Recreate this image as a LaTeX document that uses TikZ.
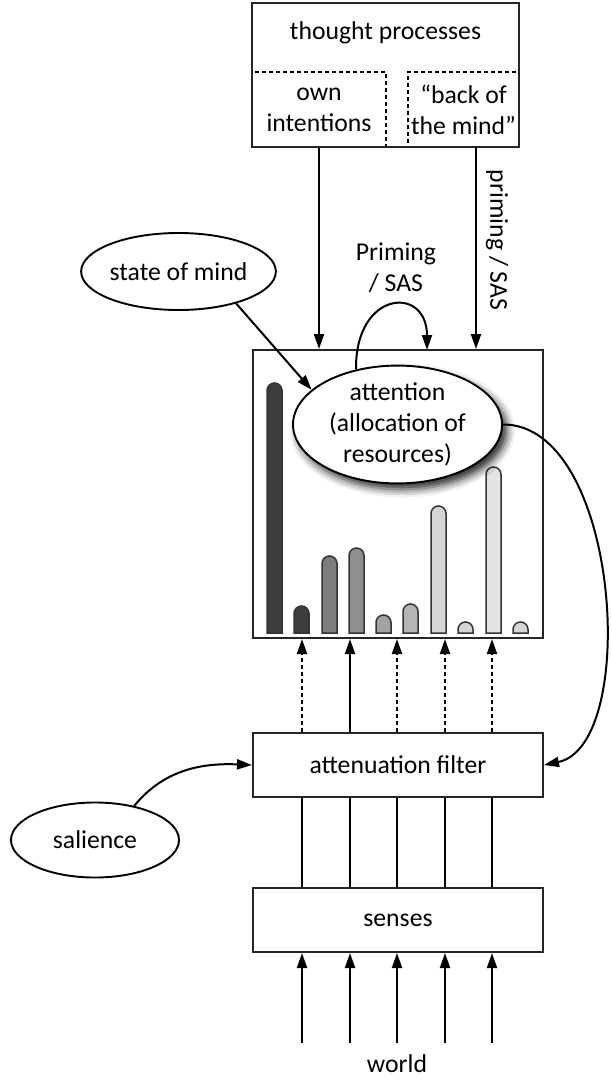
\documentclass[tikz,border=0pt]{standalone}
\usepackage{fontspec}
\setmainfont{Carlito}
\usetikzlibrary{arrows.meta,shapes.geometric,shadows.blur,calc}

\definecolor{barA}{gray}{0.24}
\definecolor{barB}{gray}{0.49}
\definecolor{barC}{gray}{0.56}
\definecolor{barD}{gray}{0.64}
\definecolor{barE}{gray}{0.71}
\definecolor{barF}{gray}{0.84}
\definecolor{barG}{gray}{0.89}

\tikzset{
  box/.style={draw=black!85, line width=2pt, rectangle, inner sep=0pt, align=center},
  dbox/.style={draw=black, line width=1.8pt, dash pattern=on 4pt off 3pt, rectangle, inner sep=0pt, align=center},
  oval/.style={draw=black, line width=1.9pt, ellipse, inner sep=0pt, fill=white, align=center},
  conn/.style={line width=2pt, -{Triangle[length=15pt,width=10pt]}},
  dashconn/.style={conn, dash pattern=on 4pt off 3pt},
  plainline/.style={line width=2pt},
  bar/.style={draw=black!80, line width=1.5pt},
  txt/.style={align=center, inner sep=0pt},
}

\begin{document}
\begin{tikzpicture}[x=1pt,y=-1pt,font=\fontsize{25.7}{31}\selectfont]
\useasboundingbox (0,0) rectangle (611,1081);

% thought processes block
\node[dbox, minimum width=134pt, minimum height=75pt] (oi) at (319,109.5) {own\\intentions};
\node[dbox, minimum width=111pt, minimum height=75pt] (bm) at (463.5,109.5) {“back of\\the mind”};
\node[box, minimum width=267pt, minimum height=144pt] (top) at (385.5,75) {};
\node[txt] (tp) at (385.5,33) {thought processes};

% attention area with resource bars
\node[box, minimum width=290pt, minimum height=288pt] (attbox) at (398,494) {};
\foreach \cx/\tp/\col in {274.5/383/barA, 301.5/606/barA, 329.5/556/barB, 356.5/548/barC,
    383.5/615/barD, 410.5/604/barE, 438.5/506/barF, 465.5/622/barF, 493.5/467/barG, 520.5/622/barF}
  \draw[bar, fill=\col] (\cx-7.5,633) -- (\cx-7.5,\tp+7.5)
     arc[start angle=180, end angle=0, radius=7.5pt] -- (\cx+7.5,633) -- cycle;

\node[oval, minimum width=209pt, minimum height=115pt,
  blur shadow={shadow xshift=5pt, shadow yshift=-6pt, shadow blur radius=8pt, shadow opacity=85}]
  (att) at (397.5,424.5) {attention\\(allocation of\\resources)};

\node[oval, minimum width=193pt, minimum height=77pt] (som) at (178.5,271.5) {state of mind};
\node[oval, minimum width=168pt, minimum height=75pt] (sal) at (95,840) {salience};

\node[box, minimum width=290pt, minimum height=64pt] (filt) at (398,765) {attenuation filter};
\node[box, minimum width=290pt, minimum height=64pt] (sens) at (398,920) {senses};
\node[txt] (world) at (397,1064) {world};

% labels
\node[txt] (prim) at (396,268) {Priming\\/ SAS};
\node[txt, rotate=-90] (prim2) at (497,240) {priming / SAS};

% top-down influences
\coordinate (bmout) at (476,147);
\coordinate (pin) at (427,350);
\draw[conn] (oi.south) -- (oi.south |- attbox.north);
\draw[conn] (bmout) -- (bmout |- attbox.north);
\draw[conn] (som.-29) -- (att.158);
\draw[conn] (att.127) .. controls (355,290) and (427,285) .. (pin);
\draw[conn] (att.east) .. controls (620,424) and (640,745) .. (filt.east);
\draw[conn] (sal.41) .. controls (165,768) and (205,763) .. (filt.west);

% bottom-up channels
\foreach \x/\s in {302/dashconn, 350/conn, 397/dashconn, 445/dashconn, 492/dashconn}
  \draw[\s] (\x,0 |- filt.north) -- (\x,0 |- attbox.south);
\foreach \x in {302,350,397,445,492}
  \draw[plainline] (\x,0 |- sens.north) -- (\x,0 |- filt.south);
\foreach \x [count=\i] in {302,350,397,445,492} {
  \coordinate (w\i) at (\x,1043);
  \draw[conn] (w\i) -- (w\i |- sens.south);
}
\end{tikzpicture}
\end{document}
